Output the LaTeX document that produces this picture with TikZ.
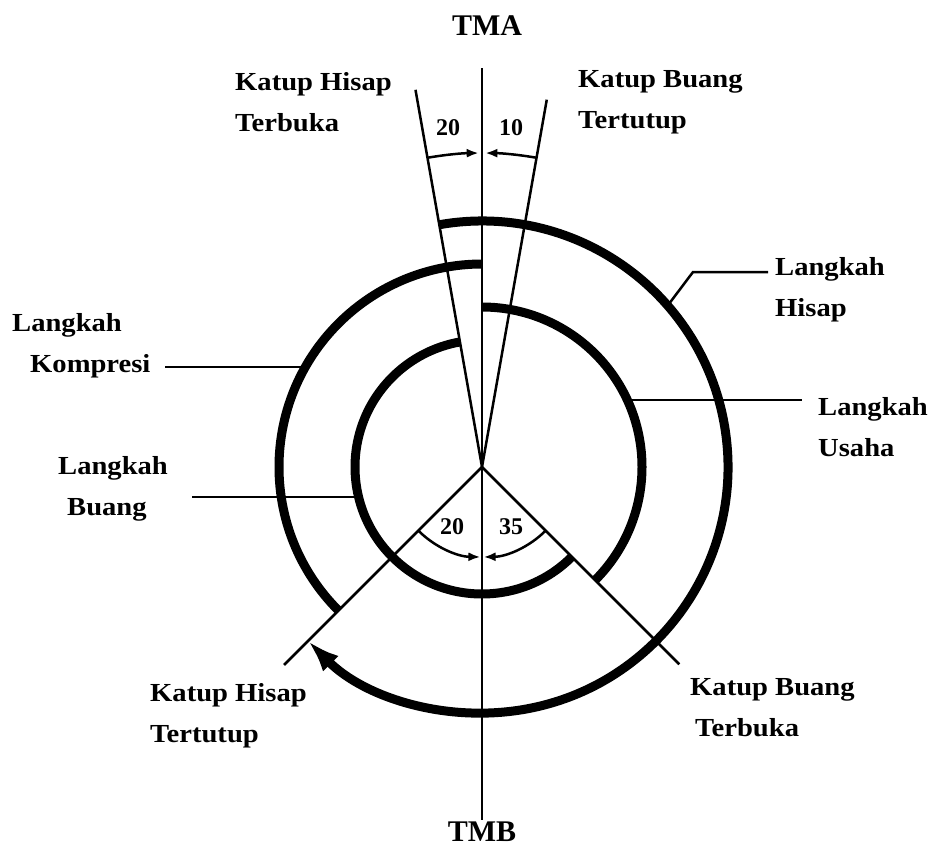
\documentclass[tikz,border=0pt]{standalone}
\usepackage{fontspec}
\setmainfont{Liberation Serif}
\newfontfamily\lab{Liberation Serif}[FakeStretch=1.1]
\usetikzlibrary{arrows.meta,calc}
\begin{document}
\begin{tikzpicture}[x=1pt,y=1pt,
  stroke/.style={line width=9pt},
  thinline/.style={line width=2.5pt},
  lbl/.style={font=\lab\bfseries\fontsize{26}{41}\selectfont, align=left, inner sep=0pt, anchor=west},
  num/.style={font=\bfseries\fontsize{24}{24}\selectfont, inner sep=0pt},
  tm/.style={font=\bfseries\fontsize{30}{30}\selectfont, inner sep=0pt},
  dimtip/.style={-{Latex[length=12pt,width=9pt]}}
]
\useasboundingbox (0,0) rectangle (931,-849);
\fill[white] (0,0) rectangle (931,-849);
\coordinate (O) at (482,-467);
% TMA / TMB axis
\coordinate (tmaTop) at (482,-68);
\coordinate (tmbBot) at (482,-820);
\node[tm] (tma) at (487,-26) {TMA};
\node[tm] (tmb) at (482,-832) {TMB};
\draw[thinline] (tmaTop) -- (tmbBot);
% valve lines
\coordinate (tl) at ($(O)+(100:383)$);
\coordinate (tr) at ($(O)+(80:373)$);
\coordinate (br) at ($(O)+(-45:279)$);
\coordinate (bl) at ($(O)+(225:280)$);
\draw[thinline] (O) -- (tl);
\draw[thinline] (O) -- (tr);
\draw[thinline] (O) -- (br);
\draw[thinline] (O) -- (bl);
% dimension arcs
\draw[thinline,dimtip] ($(O)+(100:314)$) arc[start angle=100,end angle=90.6,radius=314];
\draw[thinline,dimtip] ($(O)+(80:314)$) arc[start angle=80,end angle=89.4,radius=314];
\draw[thinline,dimtip] ($(O)+(225:90)$) arc[start angle=225,end angle=269,radius=90];
\draw[thinline,dimtip] ($(O)+(315:90)$) arc[start angle=315,end angle=271,radius=90];
\node[num] (n20a) at (448,-128) {20};
\node[num] (n10) at (511,-128) {10};
\node[num] (n20b) at (452,-527) {20};
\node[num] (n35) at (511,-527) {35};
% strokes (spiral)
\draw[stroke,-{Latex[length=32pt,width=22pt]}] ($(O)+(100:246)$) arc[start angle=100,end angle=-135,radius=246];
\draw[stroke] ($(O)+(225:203)$) arc[start angle=225,end angle=90,radius=203];
\draw[stroke] ($(O)+(90:160)$) arc[start angle=90,end angle=-45,radius=160];
\draw[stroke] ($(O)+(315:127)$) arc[start angle=315,end angle=100,radius=127];
% labels
\node[lbl] (kht) at (235,-102) {Katup Hisap\\Terbuka};
\node[lbl] (kbt) at (578,-102) {Katup Buang\\Tertutup};
\node[lbl] (lh) at (775,-290) {Langkah\\Hisap};
\node[lbl] (lu) at (818,-427) {Langkah\\Usaha};
\node[lbl] (lk) at (12,-346) {Langkah\\\hspace*{18pt}Kompresi};
\node[lbl] (lb) at (58,-489) {Langkah\\\hspace*{9pt}Buang};
\node[lbl] (khtt) at (150,-716) {Katup Hisap\\Tertutup};
\node[lbl] (kbtb) at (690,-708) {Katup Buang\\\hspace*{5pt}Terbuka};
% leader lines
\coordinate (hisapPt) at ($(O)+(41:246)$);
\coordinate (hisapKnee) at (693,-272);
\coordinate (hisapEnd) at (768,-272);
\draw[thinline] (hisapPt) -- (hisapKnee) -- (hisapEnd);
\coordinate (usahaPt) at (627,-400);
\coordinate (usahaEnd) at (802,-400);
\draw[thinline] (usahaPt) -- (usahaEnd);
\coordinate (kompEnd) at (165,-367);
\coordinate (kompPt) at (309,-367);
\draw[thinline] (kompEnd) -- (kompPt);
\coordinate (buangEnd) at (192,-497);
\coordinate (buangPt) at (359,-497);
\draw[thinline] (buangEnd) -- (buangPt);
\end{tikzpicture}
\end{document}
